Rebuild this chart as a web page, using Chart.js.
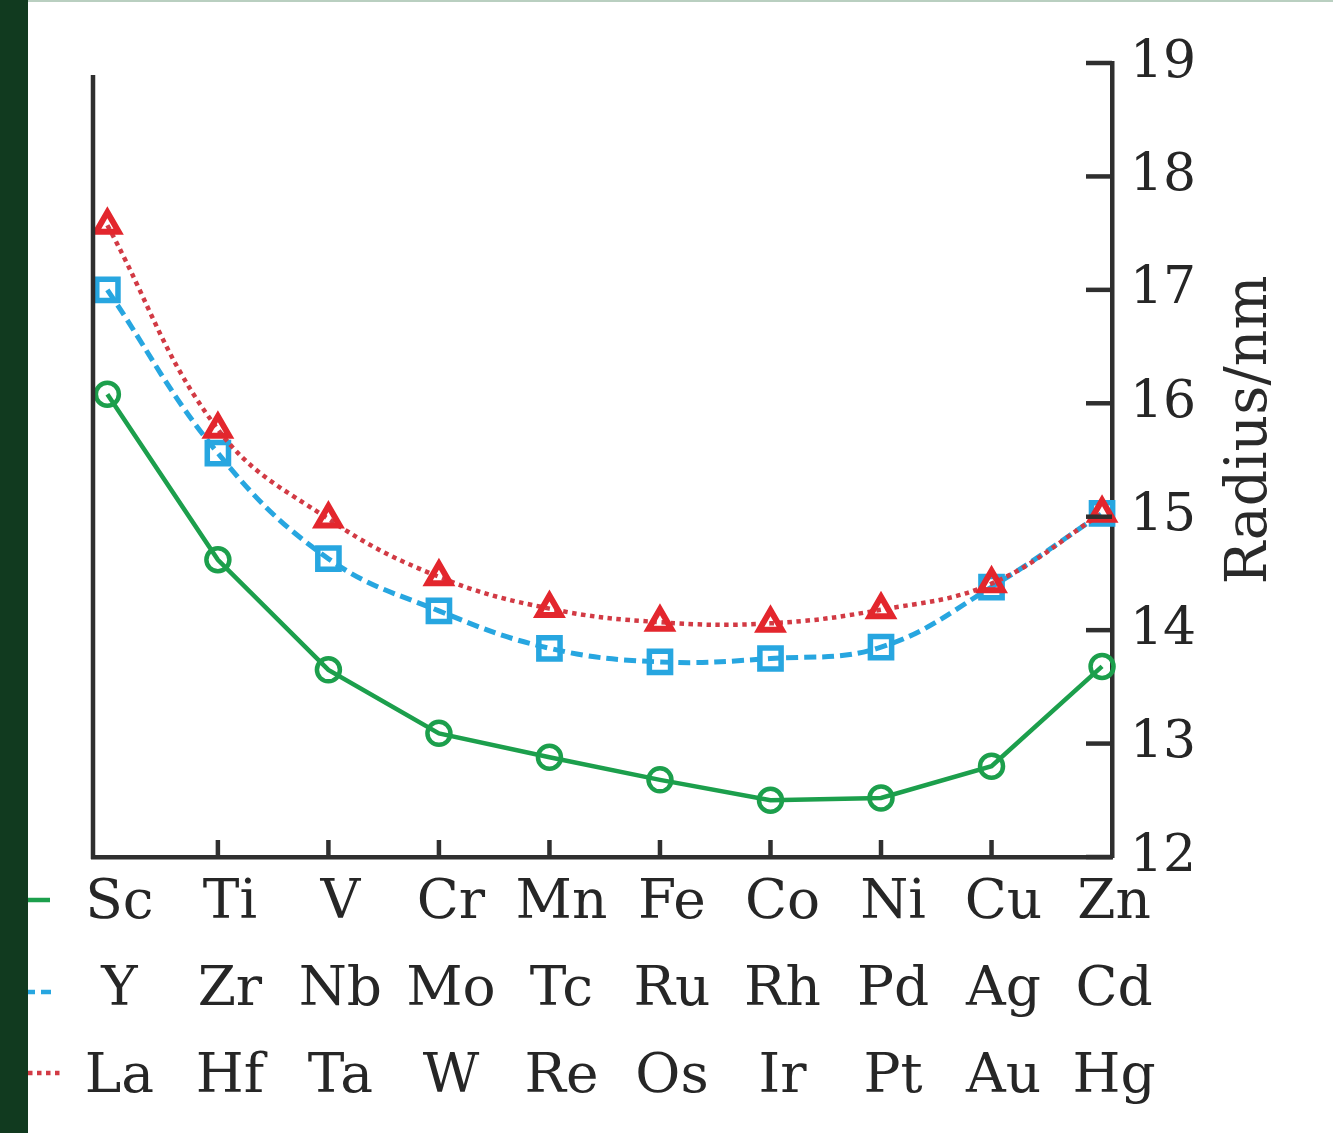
<!DOCTYPE html>
<html>
<head>
<meta charset="utf-8">
<script src="https://cdn.jsdelivr.net/npm/chart.js@4.4.1/dist/chart.umd.min.js"></script>
<style>
  html, body { margin: 0; padding: 0; background: #ffffff; }
  #wrap { width: 1333px; height: 1133px; position: relative; }
</style>
</head>
<body>
<div id="wrap"><canvas id="radiusChart" width="1333" height="1133"></canvas></div>
<script>
// rows of element symbols under the x axis
const row3d = ["Sc", "Ti", "V", "Cr", "Mn", "Fe", "Co", "Ni", "Cu", "Zn"];
const row4d = ["Y", "Zr", "Nb", "Mo", "Tc", "Ru", "Rh", "Pd", "Ag", "Cd"];
const row5d = ["La", "Hf", "Ta", "W", "Re", "Os", "Ir", "Pt", "Au", "Hg"];

// radii
const radius3d = [16.08, 14.62, 13.65, 13.09, 12.88, 12.68, 12.50, 12.52, 12.80, 13.68];
const radius4d = [17.00, 15.56, 14.63, 14.17, 13.84, 13.72, 13.75, 13.85, 14.38, 15.03];
const radius5d = [17.57, 15.77, 14.98, 14.47, 14.19, 14.07, 14.06, 14.18, 14.41, 15.03];

const yTicks = [12, 13, 14, 15, 16, 17, 18, 19];

const GREEN = "#1c9f4c";
const BLUE = "#27a6e0";
const RED = "#e3262d";
const RED_DOTS = "#d23a44";
const AXIS = "#2f2f2f";
const SERIF = "'DejaVu Serif', 'Liberation Serif', serif";

function toPoints(values) {
  return values.map((v, i) => ({ x: i, y: v }));
}

// page decoration, inward ticks, left axis line, cropped legend and rotated title
const decorPlugin = {
  id: "decor",
  beforeDraw(chart) {
    const ctx = chart.ctx;
    ctx.save();
    ctx.fillStyle = "#ffffff";
    ctx.fillRect(0, 0, chart.width, chart.height);
    ctx.fillStyle = "#113a1f";
    ctx.fillRect(0, 0, 28, chart.height);
    ctx.fillStyle = "#b9cfc0";
    ctx.fillRect(28, 0, chart.width - 28, 2);
    ctx.restore();
  },
  afterDraw(chart) {
    const ctx = chart.ctx;
    const area = chart.chartArea;
    const xs = chart.scales.x;
    const ys = chart.scales.y;
    ctx.save();
    ctx.strokeStyle = AXIS;
    ctx.lineWidth = 4.5;
    ctx.lineCap = "butt";

    // left axis
    ctx.beginPath();
    ctx.moveTo(area.left, area.top + 12);
    ctx.lineTo(area.left, area.bottom + 2);
    ctx.stroke();

    // ticks on right axis, pointing inward
    yTicks.forEach(v => {
      const py = ys.getPixelForValue(v);
      ctx.beginPath();
      ctx.moveTo(area.right - 26, py);
      ctx.lineTo(area.right, py);
      ctx.stroke();
    });

    // ticks on bottom axis, skip first and last
    for (let i = 1; i < row3d.length - 1; i++) {
      const px = xs.getPixelForValue(i);
      ctx.beginPath();
      ctx.moveTo(px, area.bottom);
      ctx.lineTo(px, area.bottom - 17);
      ctx.stroke();
    }

    // legend samples, cut by the dark strip
    ctx.lineWidth = 4.5;
    ctx.strokeStyle = GREEN;
    ctx.beginPath(); ctx.moveTo(28, 900); ctx.lineTo(50, 900); ctx.stroke();
    ctx.strokeStyle = BLUE;
    ctx.setLineDash([10, 6]);
    ctx.lineDashOffset = 3;
    ctx.beginPath(); ctx.moveTo(28, 992); ctx.lineTo(57, 992); ctx.stroke();
    ctx.strokeStyle = RED_DOTS;
    ctx.setLineDash([4.5, 4.5]);
    ctx.lineDashOffset = 0;
    ctx.beginPath(); ctx.moveTo(28, 1073); ctx.lineTo(62, 1073); ctx.stroke();
    ctx.setLineDash([]);

    // axis title, reads bottom to top
    ctx.translate(1251, 430);
    ctx.rotate(-Math.PI / 2);
    ctx.fillStyle = "#2a2a2a";
    ctx.font = "57px " + SERIF;
    ctx.textAlign = "center";
    ctx.textBaseline = "middle";
    ctx.fillText("Radius/nm", 0, 0);
    ctx.restore();
  }
};

const ctx = document.getElementById("radiusChart").getContext("2d");

new Chart(ctx, {
  type: "line",
  data: {
    datasets: [
      {
        label: "5d",
        data: toPoints(radius5d),
        order: 0,
        borderColor: RED_DOTS,
        borderWidth: 4.5,
        borderDash: [4.5, 4.5],
        tension: 0.4,
        pointStyle: "triangle",
        pointRadius: 13,
        pointBorderWidth: 6,
        pointBorderColor: RED,
        pointBackgroundColor: "rgba(255,255,255,0)",
        clip: false
      },
      {
        label: "4d",
        data: toPoints(radius4d),
        order: 1,
        borderColor: BLUE,
        borderWidth: 5,
        borderDash: [12, 6],
        tension: 0.4,
        pointStyle: "rect",
        pointRadius: 15,
        pointBorderWidth: 5.5,
        pointBorderColor: BLUE,
        pointBackgroundColor: "rgba(255,255,255,0)",
        clip: false
      },
      {
        label: "3d",
        data: toPoints(radius3d),
        order: 2,
        borderColor: GREEN,
        borderWidth: 4.5,
        tension: 0,
        pointStyle: "circle",
        pointRadius: 11.5,
        pointBorderWidth: 4.5,
        pointBorderColor: GREEN,
        pointBackgroundColor: "rgba(255,255,255,0)",
        clip: false
      }
    ]
  },
  options: {
    responsive: false,
    animation: false,
    layout: { padding: { left: 93, top: 63, right: 0, bottom: 0 } },
    plugins: {
      legend: { display: false },
      tooltip: { enabled: false }
    },
    scales: {
      x: {
        type: "linear",
        position: "bottom",
        min: -0.13,
        max: 9.09,
        grid: { display: false, drawTicks: false },
        border: { display: true, color: AXIS, width: 4.5 },
        afterBuildTicks: scale => {
          scale.ticks = row3d.map((_, i) => ({ value: i }));
        },
        afterFit: scale => { scale.height = 276; },
        ticks: {
          autoSkip: false,
          maxRotation: 0,
          padding: 3,
          labelOffset: 12,
          color: "#262626",
          font: { family: SERIF, size: 55, lineHeight: 1.58 },
          callback: value => [row3d[value], row4d[value], row5d[value]]
        }
      },
      y: {
        type: "linear",
        position: "right",
        min: 12,
        max: 19,
        grid: { display: false, drawTicks: false },
        border: { display: true, color: AXIS, width: 4.5 },
        afterBuildTicks: scale => {
          scale.ticks = yTicks.map(v => ({ value: v }));
        },
        afterFit: scale => { scale.width = 221; },
        ticks: {
          padding: 18,
          color: "#262626",
          font: { family: SERIF, size: 52 }
        }
      }
    }
  },
  plugins: [decorPlugin]
});
</script>
</body>
</html>
